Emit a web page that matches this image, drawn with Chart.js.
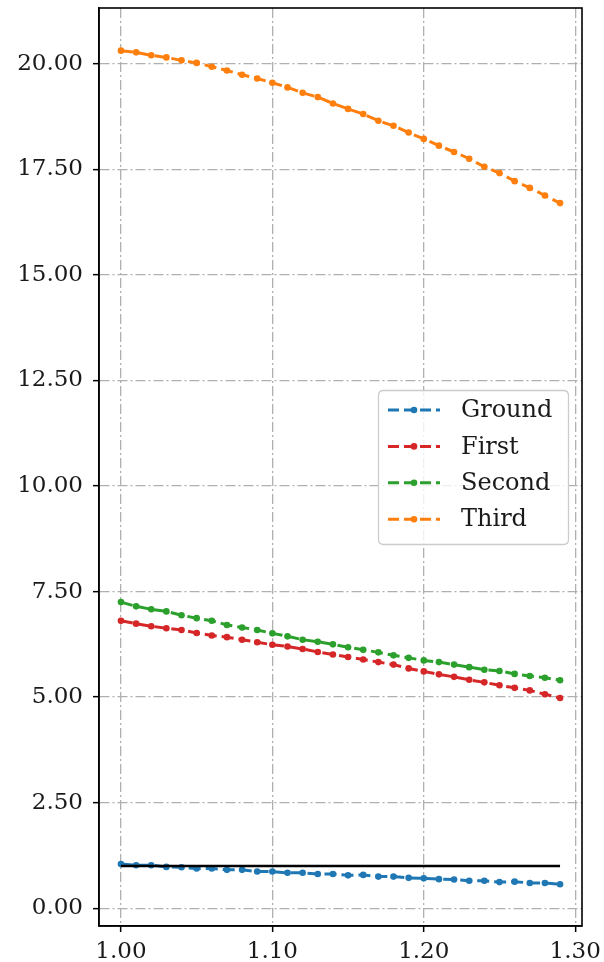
<!DOCTYPE html>
<html><head><meta charset="utf-8">
<script src="https://cdn.jsdelivr.net/npm/chart.js@4.4.0/dist/chart.umd.min.js"></script>
<style>html,body{margin:0;padding:0;background:#fff;}#wrap{width:604px;height:962px;}</style>
</head><body><div id="wrap"><canvas id="c" width="604" height="962"></canvas></div>
<script>
const xValues = [1.00,1.01,1.02,1.03,1.04,1.05,1.06,1.07,1.08,1.09,1.10,1.11,1.12,1.13,1.14,1.15,1.16,1.17,1.18,1.19,1.20,1.21,1.22,1.23,1.24,1.25,1.26,1.27,1.28,1.29];
const ground = [1.05,1.02,1.02,0.98,0.97,0.94,0.94,0.91,0.91,0.87,0.87,0.84,0.84,0.81,0.81,0.78,0.79,0.75,0.75,0.72,0.71,0.69,0.68,0.65,0.65,0.62,0.63,0.60,0.60,0.57];
const first = [6.81,6.74,6.68,6.63,6.59,6.52,6.46,6.42,6.36,6.30,6.24,6.20,6.14,6.07,6.01,5.95,5.89,5.83,5.77,5.68,5.61,5.54,5.48,5.41,5.35,5.28,5.22,5.16,5.07,4.98];
const second = [7.25,7.15,7.08,7.03,6.94,6.87,6.81,6.71,6.65,6.59,6.51,6.44,6.36,6.31,6.25,6.18,6.12,6.06,5.99,5.93,5.87,5.83,5.77,5.71,5.65,5.62,5.55,5.50,5.46,5.40];
const third = [20.31,20.27,20.20,20.15,20.08,20.02,19.93,19.84,19.74,19.65,19.55,19.44,19.31,19.21,19.06,18.93,18.81,18.65,18.53,18.37,18.22,18.06,17.91,17.75,17.56,17.41,17.22,17.06,16.88,16.70];
const refX = [1.00, 1.29];
const refY = [1.0, 1.0];
const seriesNames = ['Ground','First','Second','Third'];
const seriesColors = ['#1f77b4','#d62728','#2ca02c','#ff7f0e'];
const xTicks = [1.00,1.10,1.20,1.30];
const yTicks = [0,2.5,5,7.5,10,12.5,15,17.5,20];

const toPts = (xs, ys) => xs.map((x,i)=>({x:x,y:ys[i]}));
const seriesData = [ground, first, second, third];

const datasets = seriesData.map((ys,i)=>({
  label: seriesNames[i],
  data: toPts(xValues, ys),
  borderColor: seriesColors[i],
  backgroundColor: seriesColors[i],
  borderWidth: 3,
  borderDash: [12,5],
  pointRadius: 3.3,
  pointBorderWidth: 0,
  pointHoverRadius: 3.3,
  showLine: true,
  fill: false,
  tension: 0,
  order: -i,
  inLegend: true
}));
datasets.push({
  label: 'reference',
  data: toPts(refX, refY),
  borderColor: '#000',
  backgroundColor: '#000',
  borderWidth: 2.5,
  pointRadius: 0,
  showLine: true,
  fill: false,
  order: -10,
  inLegend: false
});

const FONT = 'DejaVu Serif';

const framePlugin = {
  id: 'frame',
  afterDraw(chart) {
    const {ctx, chartArea: a} = chart;
    ctx.save();
    ctx.strokeStyle = '#000';
    ctx.lineWidth = 1.6;
    ctx.strokeRect(a.left, a.top, a.right - a.left, a.bottom - a.top);
    // legend
    const bx = 378.5, by = 390.5, bw = 190, bh = 154, r = 5;
    ctx.beginPath();
    ctx.moveTo(bx + r, by);
    ctx.lineTo(bx + bw - r, by);
    ctx.quadraticCurveTo(bx + bw, by, bx + bw, by + r);
    ctx.lineTo(bx + bw, by + bh - r);
    ctx.quadraticCurveTo(bx + bw, by + bh, bx + bw - r, by + bh);
    ctx.lineTo(bx + r, by + bh);
    ctx.quadraticCurveTo(bx, by + bh, bx, by + bh - r);
    ctx.lineTo(bx, by + r);
    ctx.quadraticCurveTo(bx, by, bx + r, by);
    ctx.closePath();
    ctx.fillStyle = 'rgba(255,255,255,0.8)';
    ctx.fill();
    ctx.strokeStyle = '#cccccc';
    ctx.lineWidth = 1.3;
    ctx.stroke();
    const items = chart.data.datasets.filter(d => d.inLegend);
    items.forEach((d, i) => {
      const y = 410 + i * 36.4;
      ctx.strokeStyle = d.borderColor;
      ctx.lineWidth = 3;
      ctx.setLineDash([11,5]);
      ctx.beginPath();
      ctx.moveTo(388, y);
      ctx.lineTo(440, y);
      ctx.stroke();
      ctx.setLineDash([]);
      ctx.fillStyle = d.borderColor;
      ctx.beginPath();
      ctx.arc(414, y, 3.3, 0, Math.PI * 2);
      ctx.fill();
      ctx.fillStyle = '#1a1a1a';
      ctx.font = '24px "' + FONT + '"';
      ctx.textBaseline = 'middle';
      ctx.textAlign = 'left';
      ctx.fillText(d.label, 461, y + 1);
    });
    ctx.restore();
  }
};

const axisCommon = {
  type: 'linear',
  ticks: {
    font: {family: FONT, size: 23},
    color: '#1a1a1a',
    autoSkip: false,
    maxRotation: 0,
    callback: v => Number(v).toFixed(2)
  },
  grid: {
    color: '#b0b0b0',
    lineWidth: 1.3,
    drawTicks: true,
    tickLength: 6,
    tickColor: '#000',
    tickWidth: 1.5
  },
  border: {display: true, color: '#000', width: 1.5, dash: [10,3,2,3]}
};

new Chart(document.getElementById('c'), {
  type: 'scatter',
  data: {datasets: datasets},
  options: {
    responsive: false,
    animation: false,
    devicePixelRatio: 1,
    layout: {padding: {top: 8, right: 22, left: 0, bottom: 0}},
    plugins: {legend: {display: false}, tooltip: {enabled: false}},
    scales: {
      x: Object.assign({}, axisCommon, {
        min: 0.9855, max: 1.3045,
        ticks: Object.assign({}, axisCommon.ticks, {padding: 6}),
        afterBuildTicks: s => { s.ticks = xTicks.map(v => ({value: v})); },
        afterFit: s => { s.height = 36; s.paddingLeft = 0; s.paddingRight = 0; }
      }),
      y: Object.assign({}, axisCommon, {
        min: -0.42, max: 21.32,
        ticks: Object.assign({}, axisCommon.ticks, {padding: 10}),
        afterBuildTicks: s => { s.ticks = yTicks.map(v => ({value: v})); },
        afterFit: s => { s.width = 99; s.paddingTop = 0; s.paddingBottom = 0; }
      })
    }
  },
  plugins: [framePlugin]
});
</script></body></html>
